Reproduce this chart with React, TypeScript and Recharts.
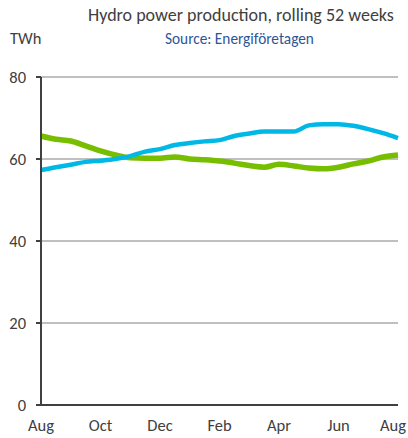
import React from "react";
import { LineChart, Line, XAxis, YAxis, CartesianGrid } from "recharts";

const monthPos = [0, 0.5, 1, 1.5, 2, 2.5, 3, 3.5, 4, 4.5, 5, 5.5, 6, 6.5, 7, 7.5, 8, 8.5, 9, 9.5, 10, 10.5, 11, 11.5, 12];
const blueSeries = [57.3, 58.0, 58.6, 59.3, 59.6, 60.0, 60.7, 61.8, 62.4, 63.4, 63.9, 64.3, 64.6, 65.6, 66.2, 66.7, 66.7, 66.7, 68.2, 68.5, 68.5, 68.1, 67.3, 66.3, 65.1];
const greenSeries = [65.6, 64.8, 64.4, 63.2, 62.0, 61.0, 60.3, 60.2, 60.2, 60.5, 60.0, 59.8, 59.5, 59.0, 58.4, 58.0, 58.7, 58.3, 57.8, 57.6, 58.0, 58.8, 59.5, 60.5, 61.0];
const xTicks = [0, 2, 4, 6, 8, 10, 12];
const xTickLabels = ["Aug", "Oct", "Dec", "Feb", "Apr", "Jun", "Aug"];
const yTicks = [0, 20, 40, 60, 80];

const data = monthPos.map((t, i) => ({ t, blue: blueSeries[i], green: greenSeries[i] }));

const font = "Carlito, Calibri, Lato, 'Open Sans', sans-serif";

const XTick = (props: any) => {
  const { x, y, payload } = props;
  const idx = xTicks.indexOf(payload.value);
  const dx = idx === xTicks.length - 1 ? -5 : 0;
  return (
    <text x={x + dx} y={y + 12} dy={6} textAnchor="middle" fill="#404040" fontSize={16.5} fontFamily={font}>
      {xTickLabels[idx]}
    </text>
  );
};

export default function App() {
  return (
    <div style={{ position: "absolute", left: 0, top: 0, width: 408, height: 438, background: "#fff", fontFamily: font }}>
      <div style={{ position: "absolute", left: 88, top: 4, fontSize: 18, lineHeight: "22px", color: "#404040", whiteSpace: "nowrap" }}>
        Hydro power production, rolling 52 weeks
      </div>
      <div style={{ position: "absolute", left: 165, top: 30, fontSize: 15.3, lineHeight: "18px", color: "#2F5597", whiteSpace: "nowrap" }}>
        Source: Energiföretagen
      </div>
      <div style={{ position: "absolute", left: 10, top: 28, fontSize: 16.5, lineHeight: "20px", color: "#404040" }}>TWh</div>
      <LineChart width={408} height={438} data={data} margin={{ top: 77, right: 10, bottom: 0, left: 0 }}>
        <CartesianGrid vertical={false} stroke="#808080" strokeWidth={1} />
        <XAxis
          dataKey="t"
          type="number"
          domain={[0, 12]}
          ticks={xTicks}
          axisLine={{ stroke: "#404040", strokeWidth: 2 }}
          tickLine={false}
          tick={<XTick />}
          height={33}
          interval={0}
        />
        <YAxis
          type="number"
          domain={[0, 80]}
          ticks={yTicks}
          width={41}
          axisLine={{ stroke: "#404040", strokeWidth: 2 }}
          tickLine={{ stroke: "#404040", strokeWidth: 2 }}
          tickSize={5}
          tickMargin={10}
          tick={{ fill: "#404040", fontSize: 16.5, fontFamily: font }}
          interval={0}
        />
        <Line dataKey="green" type="monotone" stroke="#78BE00" strokeWidth={5.5} dot={false} isAnimationActive={false} />
        <Line dataKey="blue" type="monotone" stroke="#00B8E6" strokeWidth={4.5} dot={false} isAnimationActive={false} />
      </LineChart>
    </div>
  );
}
